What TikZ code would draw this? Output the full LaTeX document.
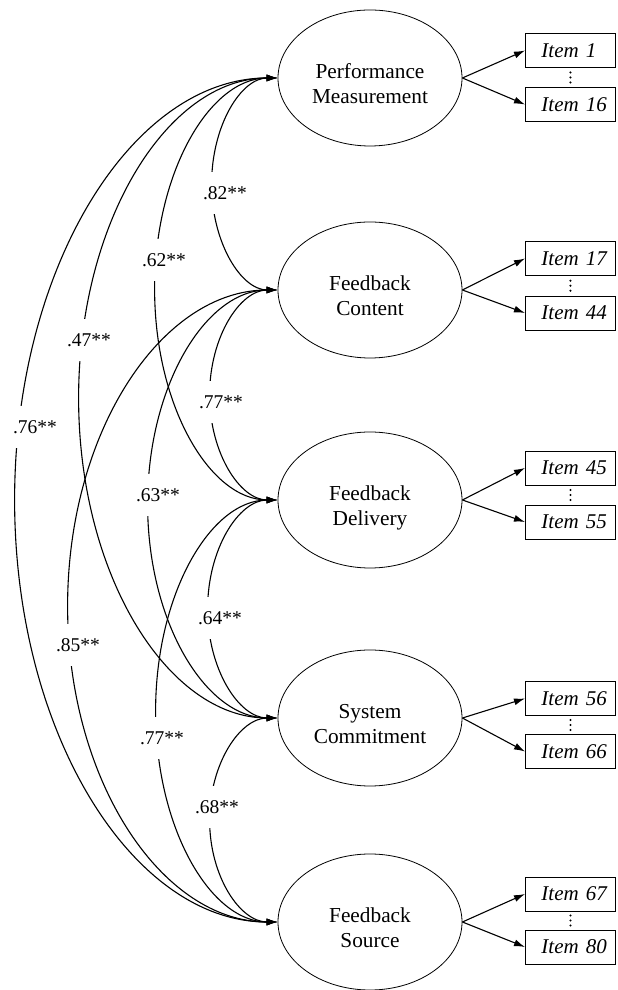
\documentclass[tikz,border=0pt]{standalone}
\usepackage{fontspec}
\setmainfont{Liberation Serif}
\usetikzlibrary{arrows.meta,shapes.geometric,calc}
\newcommand\lvtwo[2]{\rule{0pt}{32pt}#1\\#2\rule[-5pt]{0pt}{5pt}}
\begin{document}
\begin{tikzpicture}[x=1pt,y=1pt,
  latent/.style={ellipse, draw, line width=0.8pt, minimum width=184pt, minimum height=136pt,
    inner sep=0pt, align=center, font=\fontsize{21.3}{25}\selectfont},
  itembox/.style={rectangle, draw, line width=0.9pt, minimum height=34pt, text width=90pt,
    inner xsep=0pt, inner ysep=0pt, align=left, anchor=west,
    font=\fontsize{21}{25}\selectfont\itshape},
  load/.style={-{Latex[length=11pt,width=7pt]}, line width=1.1pt},
  corr/.style={{Latex[length=11pt,width=7pt]}-{Latex[length=11pt,width=7pt]}, line width=1.1pt},
  coef/.style={fill=white, inner xsep=1pt, inner ysep=14pt, font=\fontsize{19.5}{22}\selectfont},
]
\useasboundingbox (0,0) rectangle (618,990);

% latent variables
\node[latent] (pm) at (370,912) {\lvtwo{Performance}{Measurement}};
\node[latent] (fc) at (370,700) {\lvtwo{Feedback}{Content}};
\node[latent] (fd) at (370,490) {\lvtwo{Feedback}{Delivery}};
\node[latent] (sc) at (370,272) {\lvtwo{System}{Commitment}};
\node[latent] (fs) at (370,68)  {\lvtwo{Feedback}{Source}};

% items
\node[itembox] (i1)  at (525,939.5) {\hspace*{16pt}Item 1};
\node[itembox] (i16) at (525,885.5) {\hspace*{16pt}Item 16};
\node[itembox] (i17) at (525,731.5) {\hspace*{16pt}Item 17};
\node[itembox] (i44) at (525,677)   {\hspace*{16pt}Item 44};
\node[itembox] (i45) at (525,522)   {\hspace*{16pt}Item 45};
\node[itembox] (i55) at (525,468)   {\hspace*{16pt}Item 55};
\node[itembox] (i56) at (525,291.5) {\hspace*{16pt}Item 56};
\node[itembox] (i66) at (525,238.5) {\hspace*{16pt}Item 66};
\node[itembox] (i67) at (525,96)    {\hspace*{16pt}Item 67};
\node[itembox] (i80) at (525,43)    {\hspace*{16pt}Item 80};

% loadings
\foreach \l/\a/\b in {pm/i1/i16, fc/i17/i44, fd/i45/i55, sc/i56/i66, fs/i67/i80}{
  \draw[load] (\l.east) -- (\a.west);
  \draw[load] (\l.east) -- (\b.west);
  \coordinate (m\l) at ($(\a.south)!0.5!(\b.north)$);
  \fill (m\l) circle (1.2) ($(m\l)+(0,5)$) circle (1.2) ($(m\l)+(0,-5)$) circle (1.2);
}

% correlations
\draw[corr] (pm.west) arc[start angle=90, end angle=270, x radius=66,  y radius=106];
\draw[corr] (pm.west) arc[start angle=90, end angle=270, x radius=123, y radius=211];
\draw[corr] (pm.west) arc[start angle=90, end angle=270, x radius=199, y radius=320];
\draw[corr] (pm.west) arc[start angle=90, end angle=270, x radius=263, y radius=422];
\draw[corr] (fc.west) arc[start angle=90, end angle=270, x radius=68,  y radius=105];
\draw[corr] (fc.west) arc[start angle=90, end angle=270, x radius=130, y radius=214];
\draw[corr] (fc.west) arc[start angle=90, end angle=270, x radius=210, y radius=316];
\draw[corr] (fd.west) arc[start angle=90, end angle=270, x radius=70,  y radius=109];
\draw[corr] (fd.west) arc[start angle=90, end angle=270, x radius=122, y radius=211];
\draw[corr] (sc.west) arc[start angle=90, end angle=270, x radius=68,  y radius=102];

% coefficients
\node[coef] (c1)  at (225,797) {.82**};
\node[coef] (c2)  at (164,730) {.62**};
\node[coef] (c3)  at (89,650)  {.47**};
\node[coef] (c4)  at (35,563)  {.76**};
\node[coef] (c5)  at (221,588) {.77**};
\node[coef] (c6)  at (158,495) {.63**};
\node[coef] (c7)  at (78,345)  {.85**};
\node[coef] (c8)  at (220,372) {.64**};
\node[coef] (c9)  at (162,252) {.77**};
\node[coef] (c10) at (217,183) {.68**};
\end{tikzpicture}
\end{document}
